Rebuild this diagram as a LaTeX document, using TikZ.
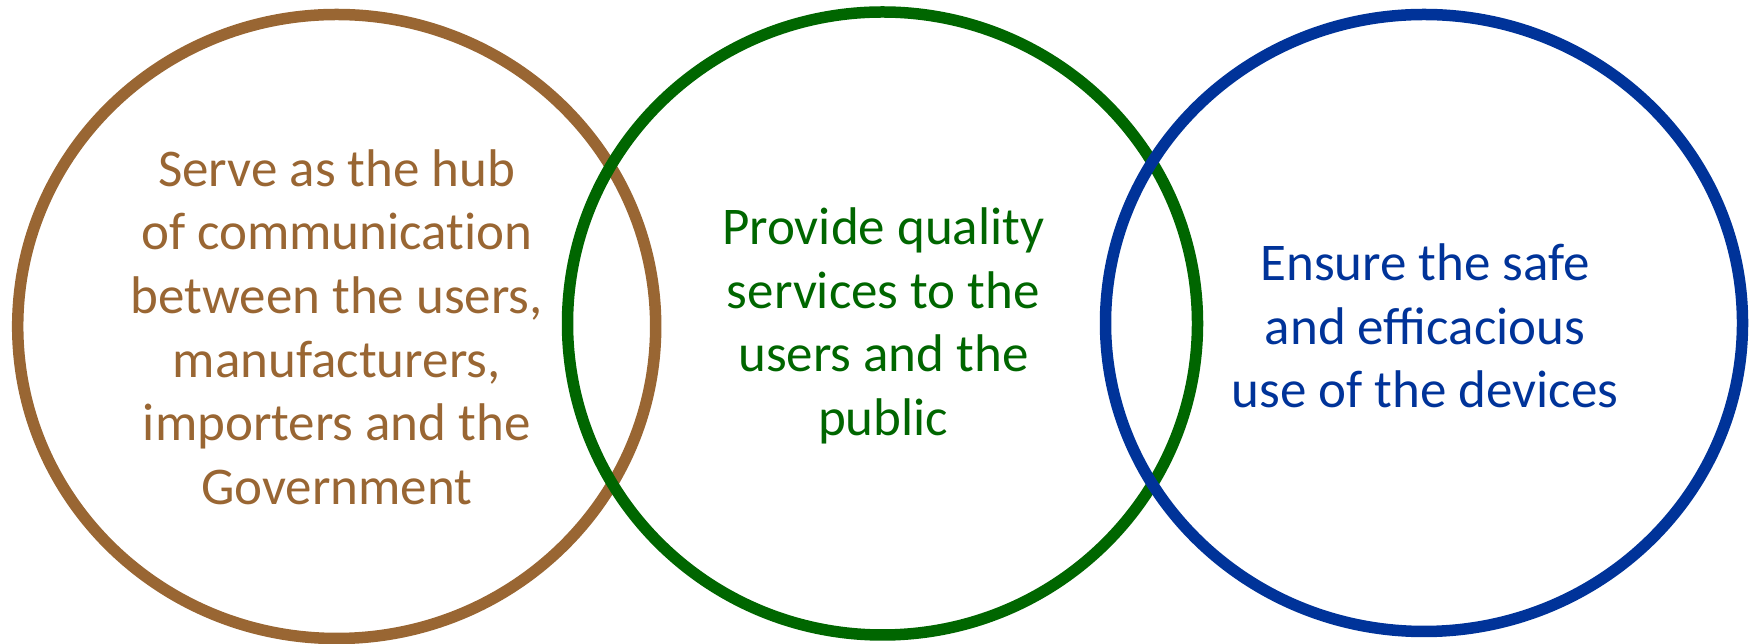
\documentclass[tikz,border=0pt]{standalone}
\usepackage{fontspec}
\setmainfont{Carlito}
\definecolor{cbrown}{RGB}{153,102,51}
\definecolor{cgreen}{RGB}{0,102,0}
\definecolor{cblue}{RGB}{0,51,153}
\begin{document}
\begin{tikzpicture}[x=1pt,y=1pt,
  ring/.style={line width=11.5pt},
  txt/.style={align=center,inner sep=0pt,font=\fontsize{53}{63.6}\selectfont}]
\useasboundingbox (0,0) rectangle (1752,644);
\coordinate (cl) at (336.7,317.5);
\coordinate (cm) at (882.5,320.5);
\coordinate (cr) at (1424,321);
\draw[ring,cbrown] (cl) ellipse [x radius=319,y radius=312];
\draw[ring,cgreen] (cm) ellipse [x radius=315,y radius=311.5];
\draw[ring,cblue] (cr) ellipse [x radius=318.5,y radius=308.5];
\node[txt,text=cbrown] (tl) at (336.7,317) {Serve as the hub\\of communicat\kern0pt ion\\between the users,\\manufacturers,\\importers and the\\Government};
\node[txt,text=cgreen] (tm) at (883.3,318) {Provide quality\\services to the\\users and the\\public};
\node[txt,text=cblue] (tr) at (1425,318) {Ensure the safe\\and efficacious\\use of the devices};
\end{tikzpicture}
\end{document}
